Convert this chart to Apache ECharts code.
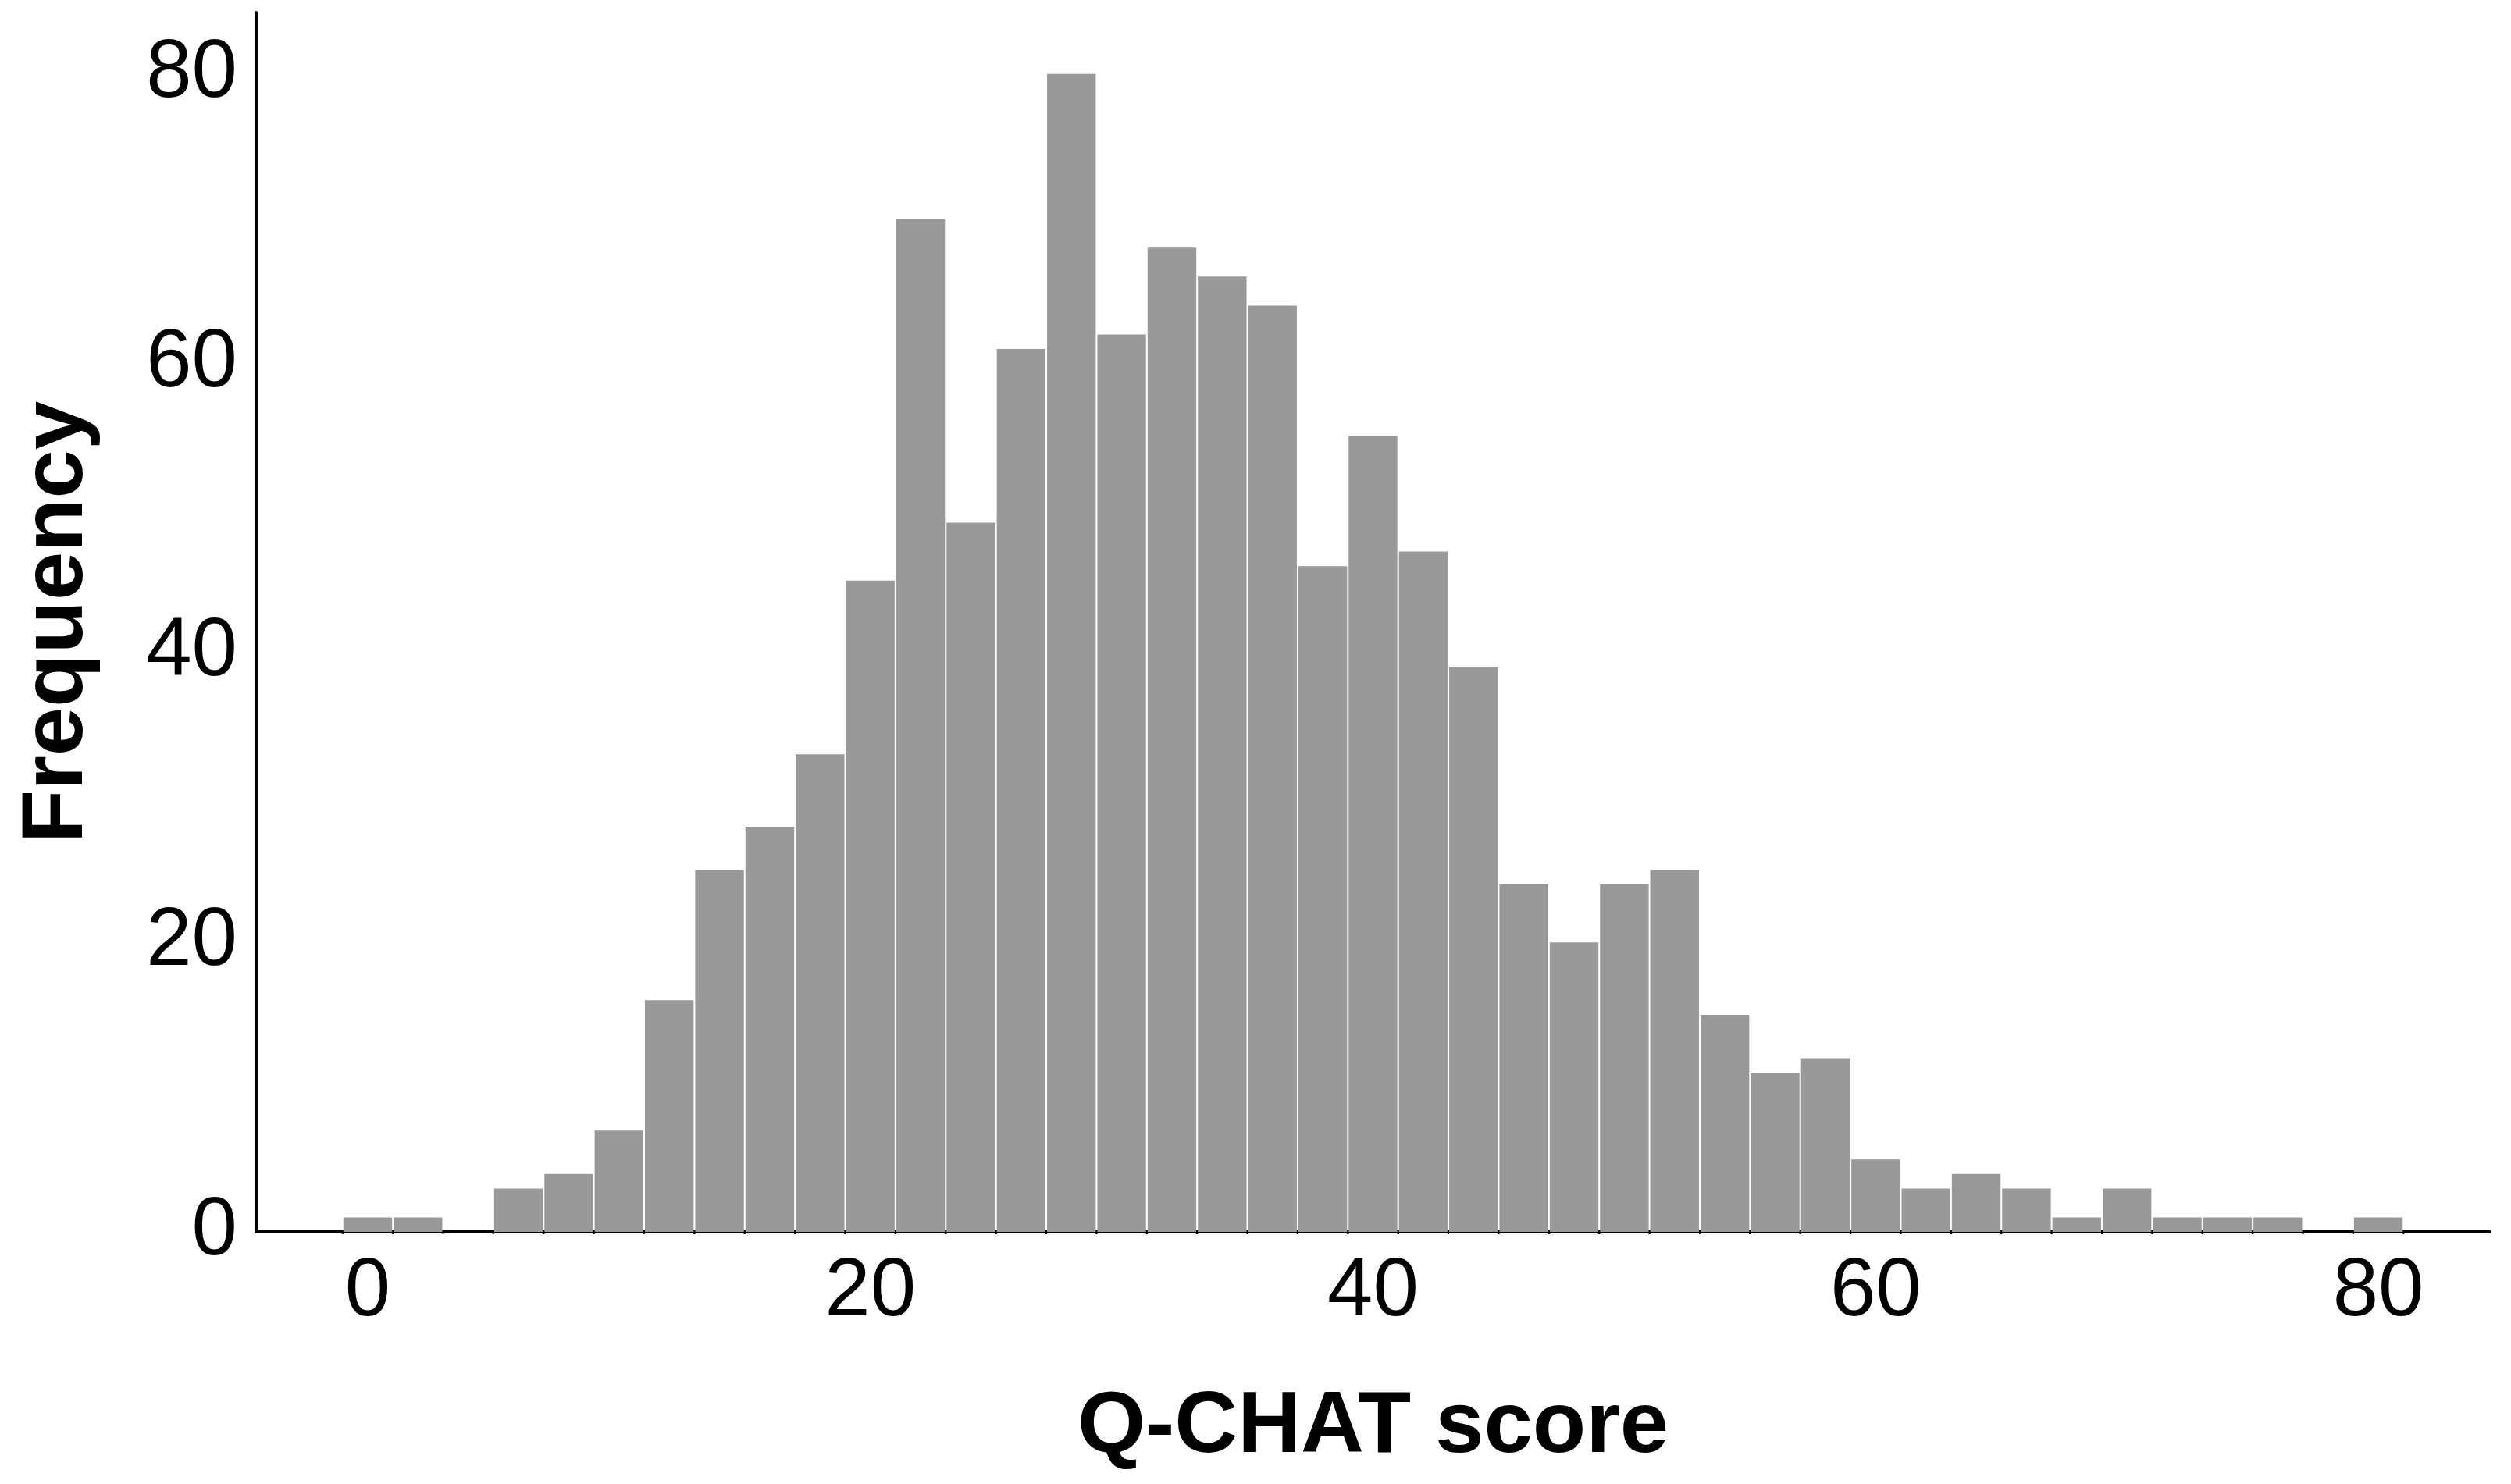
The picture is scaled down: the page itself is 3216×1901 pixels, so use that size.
<!DOCTYPE html>
<html>
<head>
<meta charset="utf-8">
<script src="https://cdn.jsdelivr.net/npm/echarts@6/dist/echarts.min.js"></script>
<style>
  html, body { margin: 0; padding: 0; background: #ffffff; }
  #chart { width: 3216px; height: 1901px; }
</style>
</head>
<body>
<div id="chart"></div>
<script>
// Histogram bin centres (Q-CHAT score), bin width 2
var binCenters = [0, 2, 4, 6, 8, 10, 12, 14, 16, 18, 20, 22, 24, 26, 28, 30, 32, 34, 36, 38, 40,
                  42, 44, 46, 48, 50, 52, 54, 56, 58, 60, 62, 64, 66, 68, 70, 72, 74, 76, 78, 80];
var binWidth = 2;
// Frequencies
var counts = [1, 1, 0, 3, 4, 7, 16, 25, 28, 33, 45, 70, 49, 61, 80, 62, 68, 66, 64, 46, 55,
              47, 39, 24, 20, 24, 25, 15, 11, 12, 5, 3, 4, 3, 1, 3, 1, 1, 1, 0, 1];
var xTickLabels = [0, 20, 40, 60, 80];
var yTickLabels = [0, 20, 40, 60, 80];

var data = binCenters.map(function (c, i) {
  return [c - binWidth / 2, c + binWidth / 2, counts[i]];
});

var chart = echarts.init(document.getElementById('chart'), null, { renderer: 'canvas' });
var font = "'Liberation Sans', Arial, sans-serif";

chart.setOption({
  animation: false,
  backgroundColor: '#ffffff',
  grid: { left: 328, right: 27, top: 16, bottom: 323, containLabel: false, outerBoundsMode: 'none' },
  xAxis: {
    type: 'value',
    min: -4.44,
    max: 84.44,
    splitNumber: 4,
    name: 'Q-CHAT score',
    nameLocation: 'middle',
    nameGap: 195,
    nameTextStyle: { fontFamily: font, fontSize: 112, fontWeight: 'bold', color: '#000' },
    axisLine: { show: true, onZero: false, lineStyle: { color: '#000', width: 4 } },
    axisTick: { show: false },
    splitLine: { show: false },
    axisLabel: {
      show: true, margin: 26, fontFamily: font, fontSize: 105, color: '#000',
      showMinLabel: false, showMaxLabel: false,
      formatter: function (v) { return xTickLabels.indexOf(Math.round(v * 1000) / 1000) >= 0 ? String(v) : ''; }
    }
  },
  yAxis: {
    type: 'value',
    min: 0,
    max: 84.25,
    interval: 20,
    name: 'Frequency',
    nameLocation: 'middle',
    nameGap: 198,
    nameTextStyle: { fontFamily: font, fontSize: 112, fontWeight: 'bold', color: '#000' },
    axisLine: { show: true, onZero: false, lineStyle: { color: '#000', width: 4 } },
    axisTick: { show: false },
    splitLine: { show: false },
    axisLabel: {
      show: true, margin: 24, fontFamily: font, fontSize: 105, color: '#000',
      padding: [12, 0, 0, 0],
      formatter: function (v) { return yTickLabels.indexOf(Math.round(v * 1000) / 1000) >= 0 ? String(v) : ''; }
    }
  },
  series: [{
    type: 'custom',
    clip: false,
    data: data,
    encode: { x: [0, 1], y: 2 },
    renderItem: function (params, api) {
      var x0 = api.value(0), x1 = api.value(1), y = api.value(2);
      if (!(y > 0)) { return { type: 'group', children: [] }; }
      var pBase = api.coord([x0, 0]);
      var pTop = api.coord([x1, y]);
      var left = pBase[0], right = pTop[0];
      return {
        type: 'group',
        children: [
          {
            type: 'rect',
            shape: { x: left + 1, y: pTop[1], width: right - left - 2, height: pBase[1] - pTop[1] },
            style: { fill: '#999999' }
          },
          {
            type: 'line',
            shape: { x1: left, y1: pBase[1], x2: left, y2: pBase[1] + 3 },
            style: { stroke: '#000', lineWidth: 2 }
          },
          {
            type: 'line',
            shape: { x1: right, y1: pBase[1], x2: right, y2: pBase[1] + 3 },
            style: { stroke: '#000', lineWidth: 2 }
          }
        ]
      };
    }
  }]
});
</script>
</body>
</html>
